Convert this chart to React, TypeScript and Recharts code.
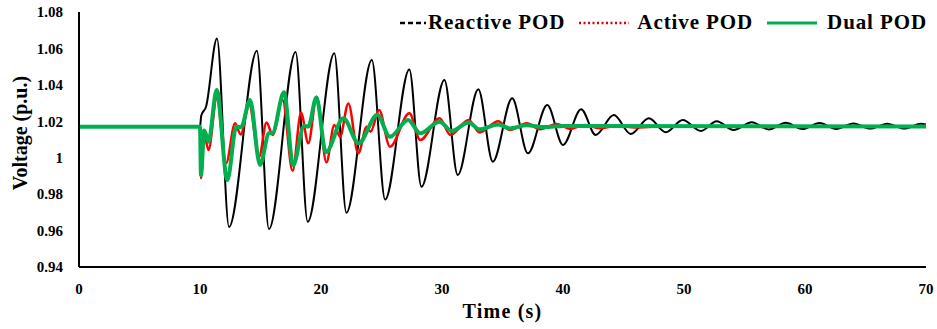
import { LineChart, Line, XAxis, YAxis } from "recharts";

// Reactive POD (black)
const reactiveT = [
  0, 10, 10.1, 10.5, 11.4, 12.4, 14.7, 15.7, 17.9, 18.9, 21.1, 22.1, 24.2,
  25.3, 27.3, 28.3, 30.2, 31.3, 33.0, 34.2, 35.8, 37.1, 38.7, 40.0, 41.5,
  42.7, 44.2, 45.6, 47.1, 48.5, 49.9, 51.4, 52.7, 54.1, 55.6, 57.0, 58.4,
  59.8, 61.2, 62.6, 64.0, 65.4, 66.8, 68.2, 69.6, 70,
];
const reactiveV = [
  1.017, 1.017, 1.023, 1.028, 1.0655, 0.962, 1.0587, 0.9608, 1.058, 0.9648,
  1.0573, 0.9698, 1.0536, 0.977, 1.0485, 0.984, 1.0427, 0.9905, 1.0376,
  0.9978, 1.0326, 1.0024, 1.0289, 1.007, 1.0266, 1.0125, 1.0234, 1.013,
  1.0216, 1.014, 1.0207, 1.0147, 1.02, 1.0152, 1.0195, 1.0155, 1.0192,
  1.0157, 1.019, 1.0158, 1.0188, 1.016, 1.0187, 1.016, 1.0186, 1.0182,
];

// Active POD (red)
const activeT = [
  0, 10, 10.08, 10.35, 10.7, 11.38, 12.15, 12.9, 13.36, 14.07, 14.88, 15.5,
  16.0, 16.83, 17.65, 18.35, 18.95, 19.64, 20.45, 21.1, 21.57, 22.26, 23.08,
  23.78, 24.1, 24.8, 25.7, 27.3, 28.2, 29.8, 30.7, 32.2, 33.1, 34.65, 35.6,
  37.0, 38.1, 39.5, 40.6, 41.8, 43.0, 44.5, 46.0, 48.0, 70,
];
const activeV = [
  1.017, 1.017, 0.9887, 1.013, 1.0042, 1.0326, 0.9969, 1.0189, 1.0128,
  1.0289, 1.0005, 1.0194, 1.0125, 1.0317, 0.9928, 1.0247, 1.0079, 1.0335,
  0.9975, 1.018, 1.0115, 1.0298, 1.0024, 1.017, 1.0143, 1.0262, 1.006,
  1.0244, 1.0097, 1.0216, 1.0125, 1.0207, 1.0139, 1.02, 1.0152, 1.0189,
  1.0156, 1.0185, 1.0158, 1.018, 1.0162, 1.0176, 1.0166, 1.0171, 1.017,
];

// Dual POD (green)
const dualT = [
  0, 10, 10.08, 10.35, 10.7, 11.38, 12.26, 13.0, 13.4, 14.13, 14.96, 15.7,
  16.0, 16.94, 17.7, 18.6, 18.95, 19.62, 20.4, 21.85, 23.1, 24.65, 25.7,
  27.2, 28.2, 29.8, 30.8, 32.2, 33.1, 34.65, 35.6, 37.0, 38.5, 40.0, 70,
];
const dualV = [
  1.017, 1.017, 0.9905, 1.015, 1.0088, 1.0372, 0.9877, 1.017, 1.0168,
  1.0317, 0.996, 1.0134, 1.0136, 1.0359, 0.996, 1.0174, 1.0172, 1.033,
  1.003, 1.0216, 1.0079, 1.0234, 1.0115, 1.0207, 1.0134, 1.0198, 1.0147,
  1.0194, 1.0156, 1.0183, 1.0161, 1.0178, 1.0168, 1.0174, 1.0172,
];

const xTicks = [0, 10, 20, 30, 40, 50, 60, 70];
const yTicks = [0.94, 0.96, 0.98, 1, 1.02, 1.04, 1.06, 1.08];

const toPoints = (ts: number[], vs: number[]) =>
  ts.map((t, i) => ({ t, v: vs[i] }));

const reactive = toPoints(reactiveT, reactiveV);
const active = toPoints(activeT, activeV);
const dual = toPoints(dualT, dualV);

const font = '"Liberation Serif", "Times New Roman", serif';

export default function App() {
  return (
    <div
      style={{
        position: "absolute",
        left: 0,
        top: 0,
        width: 937,
        height: 329,
        background: "#fff",
        fontFamily: font,
      }}
    >
      <LineChart
        width={937}
        height={329}
        margin={{ top: 12, right: 11, bottom: 0, left: 0 }}
      >
        <XAxis
          type="number"
          dataKey="t"
          domain={[0, 70]}
          ticks={xTicks}
          allowDataOverflow
          height={62}
          tickLine={false}
          tickMargin={10}
          axisLine={{ stroke: "#000", strokeWidth: 2 }}
          tick={{ fill: "#000", fontSize: 15, fontWeight: "bold", fontFamily: font }}
          label={({ viewBox }: any) => (
            <text
              x={viewBox.x + viewBox.width / 2}
              y={318}
              textAnchor="middle"
              fontFamily={font}
              fontWeight="bold"
              fontSize={20}
              letterSpacing={1.2}
              fill="#000"
            >
              Time (s)
            </text>
          )}
        />
        <YAxis
          type="number"
          domain={[0.94, 1.08]}
          ticks={yTicks}
          allowDataOverflow
          width={79}
          tickLine={false}
          tickMargin={10}
          axisLine={{ stroke: "#000", strokeWidth: 2 }}
          tickFormatter={(v: number) => (v === 1 ? "1" : v.toFixed(2))}
          tick={{ fill: "#000", fontSize: 15, fontWeight: "bold", fontFamily: font }}
          label={() => (
            <text
              x={20}
              y={133}
              transform="rotate(-90, 20, 133)"
              textAnchor="middle"
              dominantBaseline="central"
              fontFamily={font}
              fontWeight="bold"
              fontSize={20}
              fill="#000"
            >
              Voltage (p.u.)
            </text>
          )}
        />
        <Line
          data={reactive}
          dataKey="v"
          type="monotone"
          stroke="#000"
          strokeWidth={2}
          dot={false}
          isAnimationActive={false}
        />
        <Line
          data={active}
          dataKey="v"
          type="monotone"
          stroke="#ff0000"
          strokeWidth={2.5}
          dot={false}
          isAnimationActive={false}
        />
        <Line
          data={dual}
          dataKey="v"
          type="monotone"
          stroke="#00b050"
          strokeWidth={4}
          dot={false}
          isAnimationActive={false}
        />
      </LineChart>
      <div
        style={{
          position: "absolute",
          left: 400,
          top: 10,
          display: "flex",
          alignItems: "center",
          fontFamily: font,
          fontWeight: "bold",
          fontSize: 21,
          color: "#000",
          whiteSpace: "nowrap",
          letterSpacing: 0.9,
        }}
      >
        <svg width={26} height={6} style={{ marginRight: 2 }}>
          <line x1={0} y1={3} x2={26} y2={3} stroke="#000" strokeWidth={2.5} strokeDasharray="5 3" />
        </svg>
        <span>Reactive POD</span>
        <svg width={50} height={6} style={{ marginLeft: 14, marginRight: 8 }}>
          <line x1={0} y1={3} x2={50} y2={3} stroke="#e00000" strokeWidth={2.5} strokeDasharray="2 2.5" />
        </svg>
        <span>Active POD</span>
        <svg width={50} height={6} style={{ marginLeft: 14, marginRight: 10 }}>
          <line x1={0} y1={3} x2={50} y2={3} stroke="#00b050" strokeWidth={3} />
        </svg>
        <span>Dual POD</span>
      </div>
    </div>
  );
}
